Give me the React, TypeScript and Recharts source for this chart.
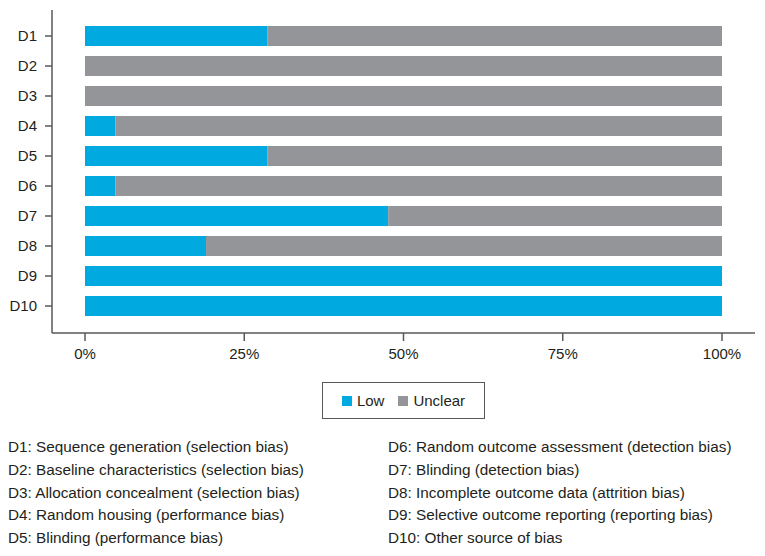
import { Bar, BarChart, Legend, XAxis, YAxis } from "recharts";

const domains = ["D1", "D2", "D3", "D4", "D5", "D6", "D7", "D8", "D9", "D10"];
const lowPct = [28.6, 0, 0, 4.8, 28.6, 4.8, 47.6, 19.0, 100, 100];
const unclearPct = [71.4, 100, 100, 95.2, 71.4, 95.2, 52.4, 81.0, 0, 0];
const xTicks = [0, 25, 50, 75, 100];

const leftNotes = [
  "D1: Sequence generation (selection bias)",
  "D2: Baseline characteristics (selection bias)",
  "D3: Allocation concealment (selection bias)",
  "D4: Random housing (performance bias)",
  "D5: Blinding (performance bias)",
];
const rightNotes = [
  "D6: Random outcome assessment (detection bias)",
  "D7: Blinding (detection bias)",
  "D8: Incomplete outcome data (attrition bias)",
  "D9: Selective outcome reporting (reporting bias)",
  "D10: Other source of bias",
];

const BLUE = "#00a9e0";
const GREY = "#939598";
const INK = "#231f20";
const AXIS = "#58595b";
const FONT = "'Liberation Sans', Arial, Helvetica, sans-serif";

const data = domains.map((d, i) => ({ name: d, low: lowPct[i], unclear: unclearPct[i] }));

function LegendBox({ payload }: { payload?: { value: string; color: string }[] }) {
  return (
    <div
      style={{
        boxSizing: "border-box",
        width: 163,
        height: 37,
        border: `1.5px solid ${AXIS}`,
        display: "flex",
        alignItems: "center",
        justifyContent: "center",
        gap: 14,
        fontFamily: FONT,
        fontSize: 15,
        color: INK,
      }}
    >
      {(payload || []).map((p) => (
        <span key={p.value} style={{ display: "flex", alignItems: "center" }}>
          <span style={{ width: 10, height: 10, background: p.color, marginRight: 5 }} />
          {p.value}
        </span>
      ))}
    </div>
  );
}

export default function App() {
  const noteStyle = {
    position: "absolute" as const,
    top: 436,
    fontFamily: FONT,
    fontSize: 15.3,
    lineHeight: "22.8px",
    color: INK,
    whiteSpace: "nowrap" as const,
  };
  return (
    <div style={{ position: "absolute", left: 0, top: 0, width: 765, height: 556, background: "#fff" }}>
      <BarChart
        width={765}
        height={425}
        data={data}
        layout="vertical"
        margin={{ top: 10, right: 10, left: 12, bottom: 62 }}
        barSize={20}
      >
        <XAxis
          type="number"
          domain={[0, 100]}
          ticks={xTicks}
          tickFormatter={(v) => `${v}%`}
          padding={{ left: 33, right: 33 }}
          height={30}
          tickSize={8}
          tickMargin={7}
          stroke={AXIS}
          strokeWidth={1.5}
          tick={{ fill: INK, fontSize: 15, fontFamily: FONT }}
        />
        <YAxis
          type="category"
          dataKey="name"
          width={40}
          padding={{ top: 11, bottom: 12 }}
          tickSize={7}
          tickMargin={8}
          stroke={AXIS}
          strokeWidth={1.5}
          tick={{ fill: INK, fontSize: 15, fontFamily: FONT }}
        />
        <Legend
          layout="vertical"
          align="center"
          verticalAlign="middle"
          wrapperStyle={{ left: 322, top: 382, width: 163, height: 37 }}
          content={(props: any) => <LegendBox payload={props.payload} />}
        />
        <Bar dataKey="low" name="Low" stackId="a" fill={BLUE} isAnimationActive={false} />
        <Bar dataKey="unclear" name="Unclear" stackId="a" fill={GREY} isAnimationActive={false} />
      </BarChart>
      <div style={{ ...noteStyle, left: 8 }}>
        {leftNotes.map((t) => (
          <div key={t}>{t}</div>
        ))}
      </div>
      <div style={{ ...noteStyle, left: 388 }}>
        {rightNotes.map((t) => (
          <div key={t}>{t}</div>
        ))}
      </div>
    </div>
  );
}
